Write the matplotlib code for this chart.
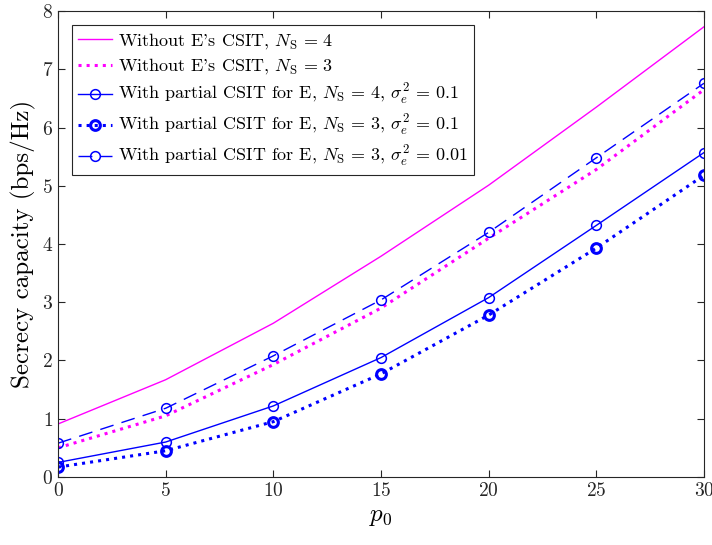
import matplotlib
matplotlib.use('Agg')
import matplotlib.pyplot as plt

plt.rcParams['font.family'] = 'serif'
plt.rcParams['font.serif'] = ['cmr10']
plt.rcParams['mathtext.fontset'] = 'cm'
plt.rcParams['axes.formatter.use_mathtext'] = True

# data
p0 = [0, 5, 10, 15, 20, 25, 30]
no_csit_ns4 = [0.91, 1.67, 2.64, 3.79, 5.01, 6.35, 7.73]
no_csit_ns3 = [0.50, 1.05, 1.93, 2.90, 4.10, 5.28, 6.65]
part_ns4_01 = [0.25, 0.60, 1.22, 2.05, 3.08, 4.32, 5.57]
part_ns3_01 = [0.17, 0.45, 0.95, 1.77, 2.78, 3.93, 5.18]
part_ns3_001 = [0.58, 1.18, 2.08, 3.04, 4.20, 5.48, 6.76]

fig = plt.figure(figsize=(7.12, 5.45), dpi=100)
ax = fig.add_axes([0.0815, 0.1248, 0.9073, 0.855])

ax.plot(p0, no_csit_ns4, '-', color='magenta', lw=1.0,
        label=r"Without E's CSIT, $N_{\rm S}\,=\,4$")
ax.plot(p0, no_csit_ns3, ':', color='magenta', lw=2.2,
        label=r"Without E's CSIT, $N_{\rm S}\,=\,3$")
ax.plot(p0, part_ns4_01, '-o', color='blue', lw=1.0, mfc='none', ms=7, mew=1.1,
        label=r"With partial CSIT for E, $N_{\rm S}\,=\,4$, $\sigma_e^2\,=\,0.1$")
ax.plot(p0, part_ns3_01, ':o', color='blue', lw=2.2, mfc='none', ms=7, mew=2.2,
        label=r"With partial CSIT for E, $N_{\rm S}\,=\,3$, $\sigma_e^2\,=\,0.1$")
ax.plot(p0, part_ns3_001, '--o', color='blue', lw=1.0, mfc='none', ms=7, mew=1.1,
        dashes=(10, 6),
        label=r"With partial CSIT for E, $N_{\rm S}\,=\,3$, $\sigma_e^2\,=\,0.01$")

ax.set_xlim(0, 30)
ax.set_ylim(0, 8)
ax.set_xticks(range(0, 31, 5))
ax.set_yticks(range(0, 9))
ax.tick_params(direction='in', top=True, right=True, labelsize=14, length=5,
               colors='#262626')
for s in ax.spines.values():
    s.set_color('#262626')
    s.set_linewidth(0.8)

ax.set_xlabel(r'$p_0$', fontsize=18)
ax.set_ylabel('Secrecy capacity (bps/Hz)', fontsize=18)

leg = ax.legend(loc='upper left', fontsize=13, fancybox=False, edgecolor='#262626',
                handlelength=1.9, handletextpad=0.3, borderaxespad=0.75,
                labelspacing=0.32, borderpad=0.35, framealpha=1)
leg.get_frame().set_linewidth(0.8)

plt.savefig('out.png', dpi=100)
